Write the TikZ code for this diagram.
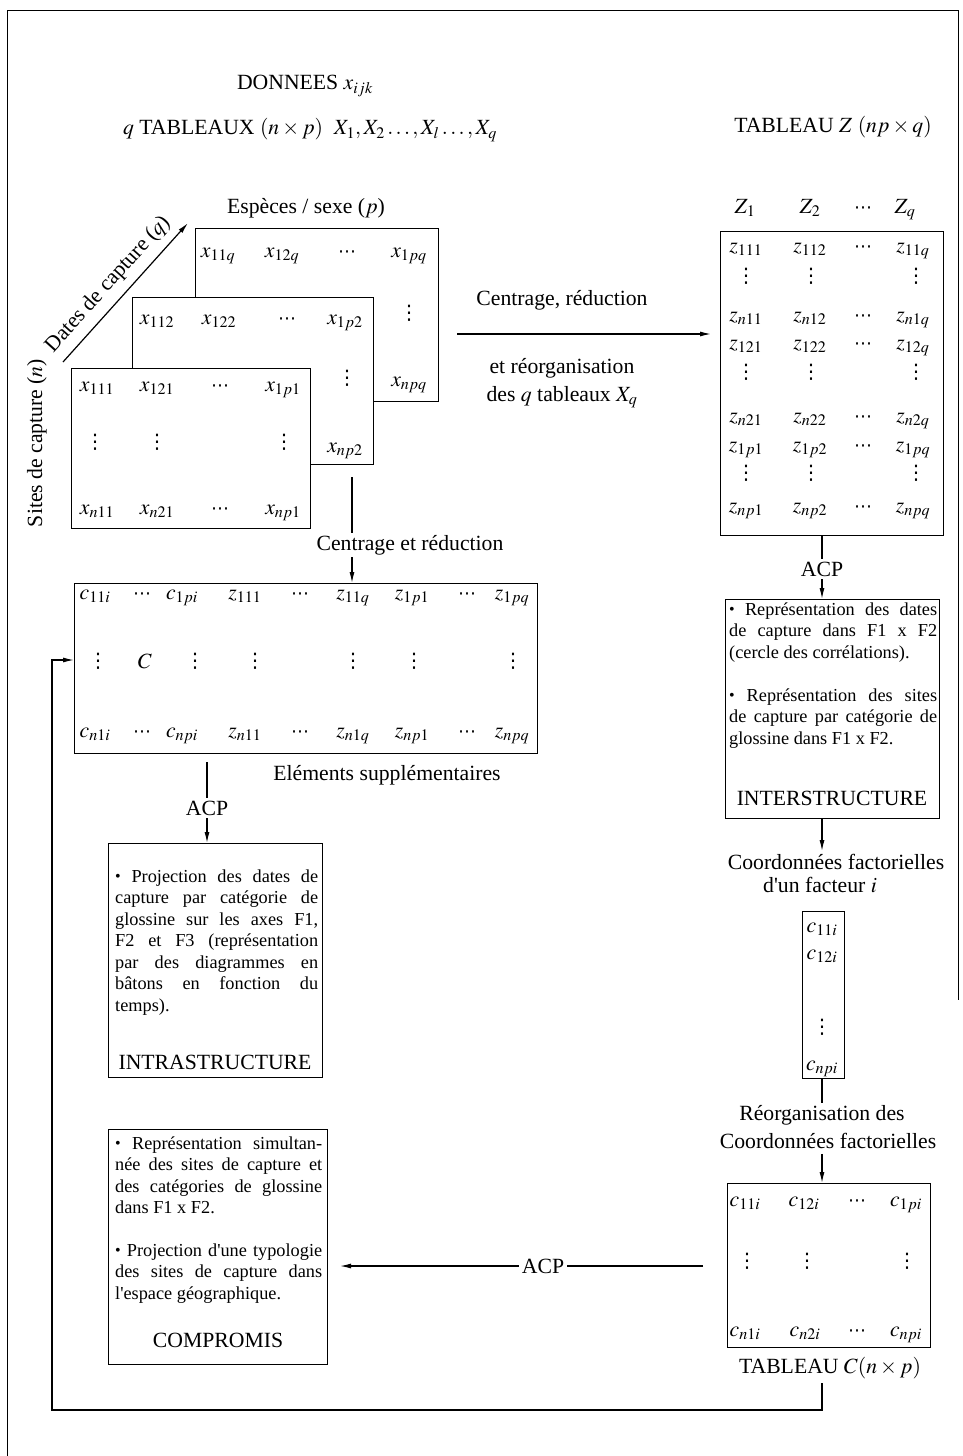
\documentclass[tikz,border=0pt]{standalone}
\usepackage{mathptmx}
\usepackage{fontspec}
\setmainfont{Liberation Serif}
\newfontfamily\dvfont{DejaVu Sans}
\usetikzlibrary{arrows.meta}
\newcommand{\mainfs}{\fontsize{21.7}{26}\selectfont}
\newcommand{\bodyfs}{\fontsize{18.3}{21.5}\selectfont}
\newcommand{\vd}{{\dvfont\fontsize{20}{20}\selectfont ⋮}}
\newcommand{\cd}{{\dvfont\fontsize{18}{18}\selectfont ⋯}}
\newcommand{\J}[2]{\makebox[#1][s]{#2}}
\newcommand{\bul}{\raisebox{0.6pt}{\fontsize{16}{16}\selectfont\textbullet}}
\newcommand{\ap}{\textquotesingle}
\begin{document}
\begin{tikzpicture}[x=1pt,y=-1pt,
  every node/.style={inner sep=0pt,font=\mainfs},
  box/.style={draw,line width=1pt,fill=white,inner sep=0pt,anchor=north west},
  ent/.style={anchor=base},
  bl/.style={anchor=base west,font=\bodyfs},
  conn/.style={line width=1.2pt},
  arr/.style={conn,-{Latex[length=11pt,width=5pt]}},
  cut/.style={fill=white,inner sep=2.5pt}]
\useasboundingbox (0,0) rectangle (962,1456);
% page frame
\draw[line width=0.8pt] (7,1456) -- (7,10) -- (958,10) -- (958,1000);

% headers
\node (don) at (305,86) {DONNEES $x_{ijk}$};
\node (qtab) at (310,130) {$q$ TABLEAUX $(n\times p)$\ \ $X_1, X_2\ldots, X_l\ldots, X_q$};
\node (tabz) at (833,127) {TABLEAU $Z$ $(np\times q)$};

% stacked tables
\node[box,minimum width=243pt,minimum height=173pt] (back) at (195,228) {};
\node[ent] (b11) at (218,257) {$x_{11q}$};
\node[ent] (b12) at (282,257) {$x_{12q}$};
\node[ent] (b13) at (347,257) {\cd};
\node[ent] (b14) at (409,257) {$x_{1pq}$};
\node (b24) at (409,313) {\vd};
\node[ent] (b34) at (409,386) {$x_{npq}$};

\node[box,minimum width=241pt,minimum height=167pt] (mid) at (132,297) {};
\node[ent] (m11) at (157,324) {$x_{112}$};
\node[ent] (m12) at (219,324) {$x_{122}$};
\node[ent] (m13) at (287,324) {\cd};
\node[ent] (m14) at (345,324) {$x_{1p2}$};
\node (m24) at (347,378) {\vd};
\node[ent] (m34) at (345,452) {$x_{np2}$};

\node[box,minimum width=239pt,minimum height=160pt] (front) at (71,368) {};
\node[ent] (f11) at (97,391) {$x_{111}$};
\node[ent] (f12) at (157,391) {$x_{121}$};
\node[ent] (f13) at (220,391) {\cd};
\node[ent] (f14) at (283,391) {$x_{1p1}$};
\node (f21) at (95,442) {\vd};
\node (f22) at (157,442) {\vd};
\node (f24) at (284,442) {\vd};
\node[ent] (f31) at (97,514) {$x_{n11}$};
\node[ent] (f32) at (157,514) {$x_{n21}$};
\node[ent] (f33) at (220,514) {\cd};
\node[ent] (f34) at (283,514) {$x_{np1}$};

\node (esp) at (306,208) {Espèces / sexe ($p$)};
\node[rotate=90] (sites) at (37,443) {Sites de capture ($n$)};
\coordinate (d0) at (63,362);
\coordinate (d1) at (188,223);
\draw[arr] (d0) -- (d1) node[pos=0.47,sloped,above=8pt] (dates) {Dates de capture ($q$)};

% Z table
\node[ent] (zh1) at (745,213) {$Z_1$};
\node[ent] (zh2) at (810,213) {$Z_2$};
\node[ent] (zh3) at (863,213) {\cd};
\node[ent] (zh4) at (905,213) {$Z_q$};
\node[box,minimum width=223pt,minimum height=304pt] (Z) at (720,231) {};
\node[ent] (z11) at (746,252) {$z_{111}$};
\node[ent] (z12) at (810,252) {$z_{112}$};
\node[ent] (z13) at (863,252) {\cd};
\node[ent] (z14) at (913,252) {$z_{11q}$};
\node (z21) at (746,276) {\vd};
\node (z22) at (811,276) {\vd};
\node (z24) at (916,276) {\vd};
\node[ent] (z31) at (746,321) {$z_{n11}$};
\node[ent] (z32) at (810,321) {$z_{n12}$};
\node[ent] (z33) at (863,321) {\cd};
\node[ent] (z34) at (913,321) {$z_{n1q}$};
\node[ent] (z41) at (746,349) {$z_{121}$};
\node[ent] (z42) at (810,349) {$z_{122}$};
\node[ent] (z43) at (863,349) {\cd};
\node[ent] (z44) at (913,349) {$z_{12q}$};
\node (z51) at (746,372) {\vd};
\node (z52) at (811,372) {\vd};
\node (z54) at (916,372) {\vd};
\node[ent] (z61) at (746,422) {$z_{n21}$};
\node[ent] (z62) at (810,422) {$z_{n22}$};
\node[ent] (z63) at (863,422) {\cd};
\node[ent] (z64) at (913,422) {$z_{n2q}$};
\node[ent] (z71) at (746,451) {$z_{1p1}$};
\node[ent] (z72) at (810,451) {$z_{1p2}$};
\node[ent] (z73) at (863,451) {\cd};
\node[ent] (z74) at (913,451) {$z_{1pq}$};
\node (z81) at (746,473) {\vd};
\node (z82) at (811,473) {\vd};
\node (z84) at (916,473) {\vd};
\node[ent] (z91) at (746,512) {$z_{np1}$};
\node[ent] (z92) at (810,512) {$z_{np2}$};
\node[ent] (z93) at (863,512) {\cd};
\node[ent] (z94) at (913,512) {$z_{npq}$};

% arrow stack -> Z
\coordinate (a1) at (457,334);
\draw[arr,shorten >=9pt] (a1) -- (a1 -| Z.west);
\node (cr1) at (562,300) {Centrage, réduction};
\node (cr2) at (562,368) {et réorganisation};
\node (cr3) at (562,397) {des $q$ tableaux $X_q$};

% C table
\node[box,minimum width=463pt,minimum height=170pt] (C) at (74,583) {};
\node[ent] (c11) at (95,599) {$c_{11i}$};
\node[ent] (c12) at (142,599) {\cd};
\node[ent] (c13) at (182,599) {$c_{1pi}$};
\node[ent] (c14) at (245,599) {$z_{111}$};
\node[ent] (c15) at (300,599) {\cd};
\node[ent] (c16) at (353,599) {$z_{11q}$};
\node[ent] (c17) at (412,599) {$z_{1p1}$};
\node[ent] (c18) at (467,599) {\cd};
\node[ent] (c19) at (512,599) {$z_{1pq}$};
\node (c21) at (98,661) {\vd};
\node (c22) at (145,661) {$C$};
\node (c23) at (195,661) {\vd};
\node (c24) at (255,661) {\vd};
\node (c26) at (353,661) {\vd};
\node (c27) at (414,661) {\vd};
\node (c29) at (513,661) {\vd};
\node[ent] (c31) at (95,737) {$c_{n1i}$};
\node[ent] (c32) at (142,737) {\cd};
\node[ent] (c33) at (182,737) {$c_{npi}$};
\node[ent] (c34) at (245,737) {$z_{n11}$};
\node[ent] (c35) at (300,737) {\cd};
\node[ent] (c36) at (353,737) {$z_{n1q}$};
\node[ent] (c37) at (412,737) {$z_{np1}$};
\node[ent] (c38) at (467,737) {\cd};
\node[ent] (c39) at (512,737) {$z_{npq}$};
\node (elt) at (387,775) {Eléments supplémentaires};

% stack -> C
\coordinate (s2) at (352,477);
\draw[arr] (s2) -- (s2 |- C.north);
\node[cut] (lcr) at (410,545) {Centrage et réduction};

% INTRA box
\node[box,minimum width=214pt,minimum height=234pt] (intra) at (108,843) {};
\node[bl] (it1) at (115,882) {\J{203pt}{\bul{} Projection des dates de}};
\node[bl] (it2) at (115,903.5) {\J{203pt}{capture par catégorie de}};
\node[bl] (it3) at (115,925) {\J{203pt}{glossine sur les axes F1,}};
\node[bl] (it4) at (115,946.5) {\J{203pt}{F2 et F3 (représentation}};
\node[bl] (it5) at (115,968) {\J{203pt}{par des diagrammes en}};
\node[bl] (it6) at (115,989.5) {\J{203pt}{bâtons en fonction du}};
\node[bl] (it7) at (115,1011) {temps).};
\node (intrat) at (215,1062) {INTRASTRUCTURE};

% C -> INTRA
\coordinate (c2) at (207,762);
\draw[arr] (c2) -- (c2 |- intra.north);
\node[cut] (acp1) at (207,808) {ACP};

% INTER box
\node[box,minimum width=214pt,minimum height=219pt] (inter) at (725,599) {};
\node[bl] (in1) at (729,615) {\J{208pt}{\bul{} Représentation des dates}};
\node[bl] (in2) at (729,636.5) {\J{208pt}{de capture dans F1 x F2}};
\node[bl] (in3) at (729,658) {(cercle des corrélations).};
\node[bl] (in4) at (729,701) {\J{208pt}{\bul{} Représentation des sites}};
\node[bl] (in5) at (729,722.5) {\J{208pt}{de capture par catégorie de}};
\node[bl] (in6) at (729,744) {glossine dans F1 x F2.};
\node (intert) at (832,798) {INTERSTRUCTURE};

% Z -> INTER
\coordinate (zb) at (822,535);
\draw[arr] (zb) -- (zb |- inter.north);
\node[cut] (acp2) at (822,569) {ACP};

% coordinates factorielles
\node (cf1) at (836,862) {Coordonnées factorielles};
\node (cf2) at (820,885) {d\ap un facteur $i$};
\draw[arr,shorten >=3pt] (inter.south -| zb) -- (cf1.north -| zb);

\node[box,minimum width=42pt,minimum height=167pt] (col) at (802,911) {};
\node[ent] (k1) at (822,932) {$c_{11i}$};
\node[ent] (k2) at (822,959) {$c_{12i}$};
\node (k3) at (822,1027) {\vd};
\node[ent] (k4) at (822,1070) {$c_{npi}$};

\node (ro1) at (822,1115) {Réorganisation des};
\node (ro2) at (828,1141) {Coordonnées factorielles};
\draw[conn,shorten >=2pt] (col.south -| zb) -- (ro1.north -| zb);

% Cmat
\node[box,minimum width=203pt,minimum height=164pt] (Cm) at (727,1183) {};
\draw[arr,shorten <=5pt] (ro2.south -| zb) -- (zb |- Cm.north);
\node[ent] (m1a) at (745,1206) {$c_{11i}$};
\node[ent] (m1b) at (804,1206) {$c_{12i}$};
\node[ent] (m1c) at (857,1206) {\cd};
\node[ent] (m1d) at (906,1206) {$c_{1pi}$};
\node (m2a) at (747,1261) {\vd};
\node (m2b) at (807,1261) {\vd};
\node (m2d) at (907,1261) {\vd};
\node[ent] (m3a) at (745,1336) {$c_{n1i}$};
\node[ent] (m3b) at (805,1336) {$c_{n2i}$};
\node[ent] (m3c) at (857,1336) {\cd};
\node[ent] (m3d) at (906,1336) {$c_{npi}$};
\node (tc) at (830,1368) {TABLEAU $C(n\times p)$};

% COMPROMIS box
\node[box,minimum width=219pt,minimum height=235pt] (comp) at (108,1129) {};
\node[bl] (cp1) at (115,1149) {\J{207pt}{\bul{} Représentation simultan-}};
\node[bl] (cp2) at (115,1170.5) {\J{207pt}{née des sites de capture et}};
\node[bl] (cp3) at (115,1192) {\J{207pt}{des catégories de glossine}};
\node[bl] (cp4) at (115,1213.5) {dans F1 x F2.};
\node[bl] (cp5) at (115,1256) {\J{207pt}{\bul{} Projection d\ap une typologie}};
\node[bl] (cp6) at (115,1277.5) {\J{207pt}{des sites de capture dans}};
\node[bl] (cp7) at (115,1299) {l\ap espace géographique.};
\node (compt) at (218,1340) {COMPROMIS};

% Cmat -> COMPROMIS
\coordinate (cb) at (703,1266);
\draw[arr,shorten >=12pt] (cb) -- (cb -| comp.east);
\node[cut] (acp3) at (543,1266) {ACP};

% loop back to C
\coordinate (lp1) at (822,1410);
\coordinate (lp2) at (52,1410);
\coordinate (lp3) at (52,660);
\draw[arr,shorten <=4pt] (tc.south -| zb) -- (lp1) -- (lp2) -- (lp3) -- (lp3 -| C.west);
\end{tikzpicture}
\end{document}
